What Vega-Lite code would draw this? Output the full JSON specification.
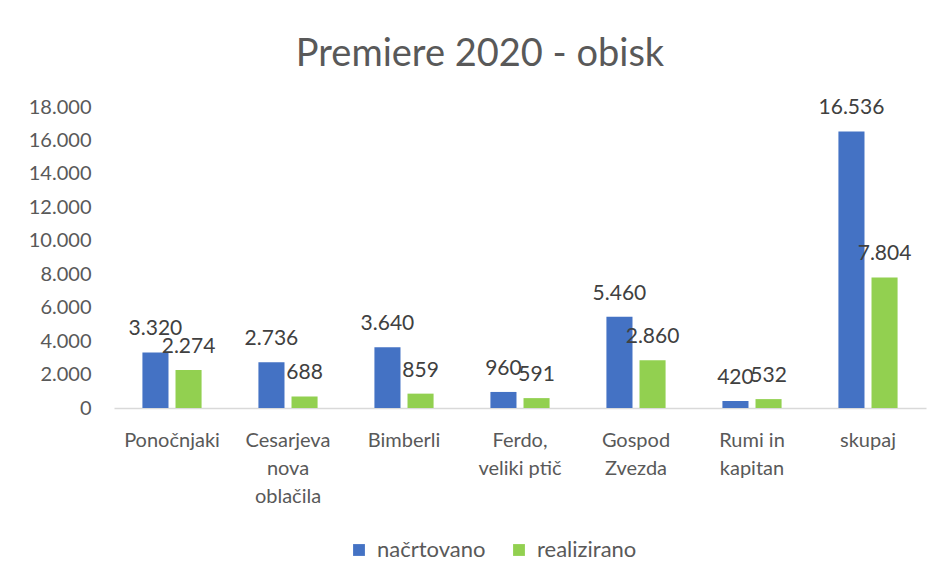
{
  "$schema": "https://vega.github.io/schema/vega-lite/v6.json",
  "width": 812,
  "height": 301,
  "autosize": {"type": "none"},
  "padding": {"left": 114, "top": 107, "right": 19, "bottom": 173},
  "background": "white",
  "title": {
    "text": "Premiere 2020 - obisk",
    "fontSize": 38,
    "font": "Lato",
    "fontWeight": "normal",
    "color": "#595959",
    "anchor": "middle",
    "dx": -40,
    "offset": 23
  },
  "data": {
    "values": [
      {"film": "Ponočnjaki", "serija": "načrtovano", "obisk": 3320},
      {"film": "Ponočnjaki", "serija": "realizirano", "obisk": 2274},
      {"film": "Cesarjeva nova oblačila", "serija": "načrtovano", "obisk": 2736},
      {"film": "Cesarjeva nova oblačila", "serija": "realizirano", "obisk": 688},
      {"film": "Bimberli", "serija": "načrtovano", "obisk": 3640},
      {"film": "Bimberli", "serija": "realizirano", "obisk": 859},
      {"film": "Ferdo, veliki ptič", "serija": "načrtovano", "obisk": 960},
      {"film": "Ferdo, veliki ptič", "serija": "realizirano", "obisk": 591},
      {"film": "Gospod Zvezda", "serija": "načrtovano", "obisk": 5460},
      {"film": "Gospod Zvezda", "serija": "realizirano", "obisk": 2860},
      {"film": "Rumi in kapitan", "serija": "načrtovano", "obisk": 420},
      {"film": "Rumi in kapitan", "serija": "realizirano", "obisk": 532},
      {"film": "skupaj", "serija": "načrtovano", "obisk": 16536},
      {"film": "skupaj", "serija": "realizirano", "obisk": 7804}
    ]
  },
  "encoding": {
    "x": {
      "field": "film",
      "type": "nominal",
      "sort": null,
      "scale": {"paddingInner": 0.49, "paddingOuter": 0.245},
      "axis": {
        "title": null,
        "labelAngle": 0,
        "ticks": false,
        "domainColor": "#d9d9d9",
        "domainWidth": 1.5,
        "labelFont": "Lato",
        "labelFontSize": 20,
        "labelColor": "#595959",
        "labelPadding": 22,
        "labelLineHeight": 28,
        "labelBaseline": "top",
        "labelExpr": "datum.value == 'Cesarjeva nova oblačila' ? ['Cesarjeva','nova','oblačila'] : datum.value == 'Ferdo, veliki ptič' ? ['Ferdo,','veliki ptič'] : datum.value == 'Gospod Zvezda' ? ['Gospod','Zvezda'] : datum.value == 'Rumi in kapitan' ? ['Rumi in','kapitan'] : datum.value"
      }
    },
    "xOffset": {
      "field": "serija",
      "type": "nominal",
      "sort": ["načrtovano", "realizirano"],
      "scale": {"paddingInner": 0.212, "paddingOuter": 0}
    },
    "y": {
      "field": "obisk",
      "type": "quantitative",
      "scale": {"domain": [0, 18000], "nice": false},
      "axis": {
        "title": null,
        "values": [0, 2000, 4000, 6000, 8000, 10000, 12000, 14000, 16000, 18000],
        "format": ",d",
        "grid": false,
        "ticks": false,
        "domain": false,
        "labelFont": "Lato",
        "labelFontSize": 20,
        "labelColor": "#595959",
        "labelPadding": 23
      }
    }
  },
  "layer": [
    {
      "mark": {"type": "bar"},
      "encoding": {
        "color": {
          "field": "serija",
          "type": "nominal",
          "scale": {"domain": ["načrtovano", "realizirano"], "range": ["#4472C4", "#92D050"]},
          "legend": {
            "title": null,
            "orient": "none",
            "legendX": 234,
            "legendY": 432,
            "direction": "horizontal",
            "symbolType": "square",
            "symbolSize": 140,
            "symbolStrokeWidth": 0,
            "labelFont": "Lato",
            "labelFontSize": 22,
            "labelColor": "#595959",
            "labelOffset": 7,
            "columnPadding": 22
          }
        }
      }
    },
    {
      "mark": {"type": "text", "font": "Lato", "fontSize": 21, "color": "#404040", "baseline": "alphabetic", "dy": -17},
      "encoding": {
        "text": {"field": "obisk", "type": "quantitative", "format": ","}
      }
    }
  ],
  "config": {
    "locale": {
      "number": {"decimal": ",", "thousands": ".", "grouping": [3], "currency": ["", " €"]}
    },
    "view": {"stroke": null}
  }
}
